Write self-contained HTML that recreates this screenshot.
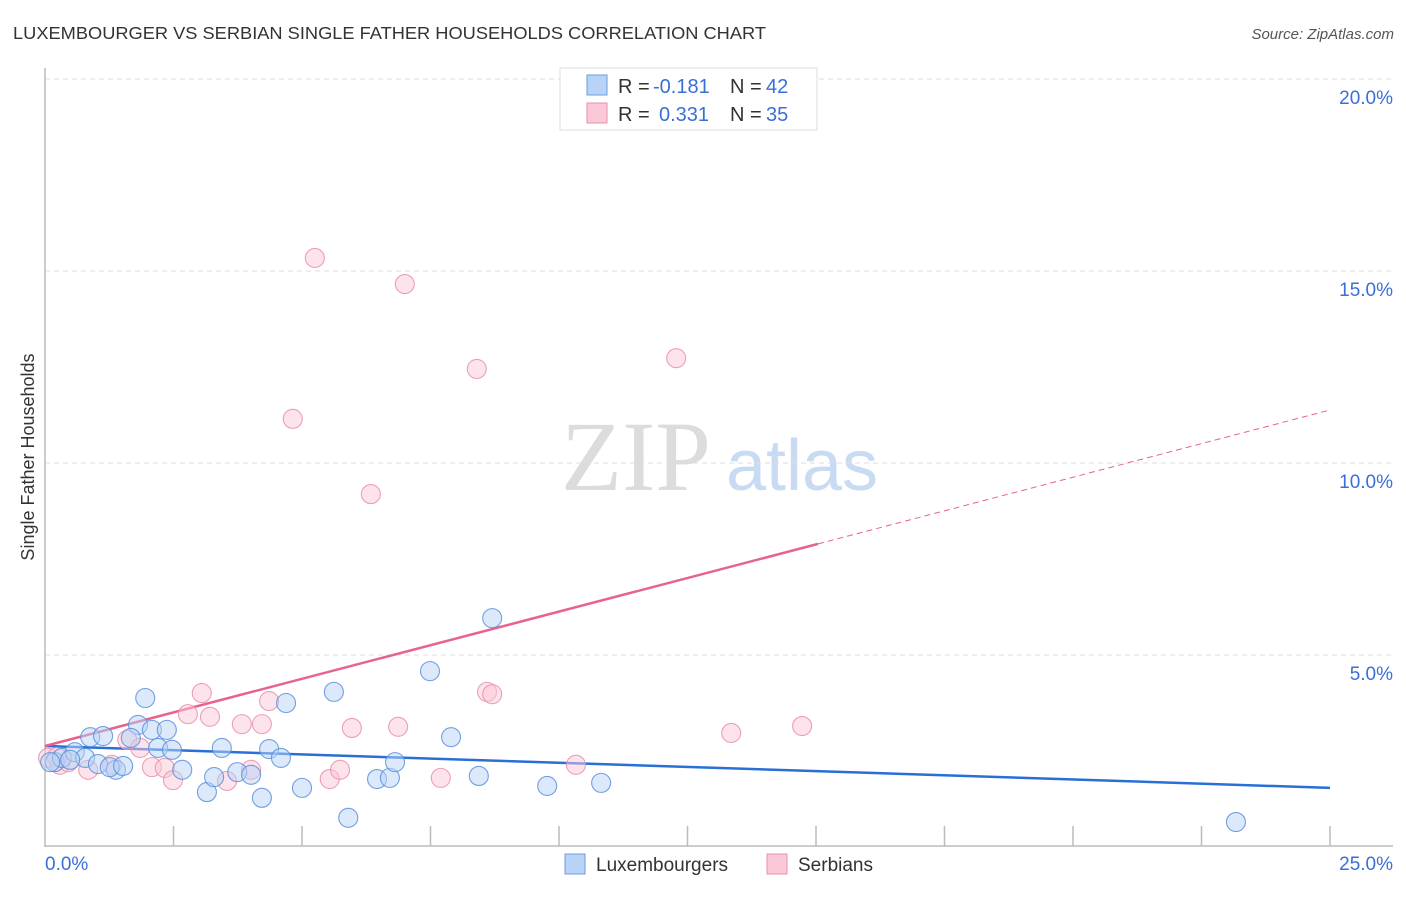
<!DOCTYPE html>
<html><head><meta charset="utf-8"><style>
body{margin:0;background:#fff;font-family:"Liberation Sans",sans-serif}
</style></head><body>
<svg id="chart" width="1406" height="892" viewBox="0 0 1406 892" xmlns="http://www.w3.org/2000/svg" font-family="Liberation Sans, sans-serif">
<text x="13" y="39" font-size="17.5" fill="#333" textLength="753" lengthAdjust="spacingAndGlyphs">LUXEMBOURGER VS SERBIAN SINGLE FATHER HOUSEHOLDS CORRELATION CHART</text>
<text x="1394" y="39" font-size="15" fill="#555" font-style="italic" text-anchor="end">Source: ZipAtlas.com</text>
<text x="34" y="457" font-size="18" fill="#333" text-anchor="middle" transform="rotate(-90 34 457)">Single Father Households</text>
<g>
<text x="636" y="490" font-size="100" fill="#dcdcdc" style="font-family:'Liberation Serif',serif" text-anchor="middle">ZIP</text>
<text x="802" y="490" font-size="72" fill="#c9daf3" text-anchor="middle">atlas</text>
</g>
<g id="grid"></g>
<g id="axes"></g>
<g id="trends"></g>
<g id="points"></g>
<g>
<rect x="560" y="68" width="257" height="62" fill="#fff" stroke="#ddd"/>
<rect x="587" y="75" width="20" height="20" fill="#b8d3f5" stroke="#6a9ee0"/>
<text x="618" y="93" font-size="20" fill="#333">R = </text>
<text x="653" y="93" font-size="20" fill="#3a6fd6">-0.181</text>
<text x="730" y="93" font-size="20" fill="#333">N = </text>
<text x="766" y="93" font-size="20" fill="#3a6fd6">42</text>
<rect x="587" y="103" width="20" height="20" fill="#fbc8d7" stroke="#ea8fab"/>
<text x="618" y="121" font-size="20" fill="#333">R = </text>
<text x="659" y="121" font-size="20" fill="#3a6fd6">0.331</text>
<text x="730" y="121" font-size="20" fill="#333">N = </text>
<text x="766" y="121" font-size="20" fill="#3a6fd6">35</text>
</g>
<g>
<rect x="565" y="854" width="20" height="20" fill="#b8d3f5" stroke="#6a9ee0"/>
<text x="596" y="871" font-size="19" fill="#333">Luxembourgers</text>
<text x="798" y="871" font-size="19" fill="#333">Serbians</text>
<rect x="767" y="854" width="20" height="20" fill="#fbc8d7" stroke="#ea8fab"/>
</g>
</svg>
<script>
const blueX=[0.19,0.33,0.58,0.78,0.88,1.13,1.03,1.38,1.95,1.81,1.67,2.08,2.37,2.20,2.47,2.67,3.15,3.29,3.44,3.74,4.01,4.22,4.36,4.59,4.69,5.00,5.62,5.90,6.46,6.71,6.81,7.49,7.90,8.44,8.70,9.77,10.82,23.17,0.10,1.26,1.52,0.49];
const blueY=[2.21,2.32,2.47,2.32,2.86,2.89,2.16,2.01,3.88,3.18,2.84,3.05,3.05,2.58,2.53,2.01,1.43,1.82,2.58,1.95,1.88,1.28,2.55,2.32,3.75,1.54,4.04,0.76,1.77,1.80,2.21,4.58,2.86,1.85,5.96,1.59,1.67,0.65,2.21,2.08,2.11,2.27];
const pinkX=[0.06,0.29,0.45,0.84,1.30,1.60,1.85,2.08,2.33,2.49,2.78,3.05,3.21,3.54,3.83,4.01,4.22,4.36,4.82,5.25,5.54,5.74,5.97,6.34,6.87,7.00,7.70,8.40,8.60,8.70,10.33,12.28,13.35,14.73,0.23];
const pinkY=[2.32,2.14,2.21,2.01,2.14,2.79,2.58,2.08,2.06,1.74,3.46,4.01,3.39,1.72,3.20,2.01,3.20,3.80,11.15,15.34,1.77,2.01,3.10,9.19,3.13,14.66,1.80,12.45,4.04,3.98,2.14,12.73,2.97,3.15,2.34];
const yTicks=[5,10,15,20];
const yTickLabels=["5.0%","10.0%","15.0%","20.0%"];
const xTicks=[0,2.5,5,7.5,10,12.5,15,17.5,20,22.5,25];
const blueTrend=[2.63,1.54];
const pinkTrend=[2.63,11.38];
const pinkSolidEnd=15.04;

const NS="http://www.w3.org/2000/svg";
const X=v=>45+v*51.4, Y=v=>847-v*38.4;
function mk(tag,attrs,parent){const e=document.createElementNS(NS,tag);for(const k in attrs)e.setAttribute(k,attrs[k]);parent.appendChild(e);return e;}
const grid=document.getElementById('grid'),axes=document.getElementById('axes'),tr=document.getElementById('trends'),pts=document.getElementById('points');
yTicks.forEach((t,i)=>{
 const l=mk('line',{x1:45,x2:1393,y1:Y(t),y2:Y(t),stroke:'#ddd','stroke-dasharray':'5,4'},grid);
 
 
 const tx=mk('text',{x:1393,y:Y(t)+25,'font-size':19,fill:'#3a6fd6','text-anchor':'end'},axes);
 tx.textContent=yTickLabels[i];
 
 
});
let a=mk('line',{x1:45,x2:45,y1:68,y2:847,stroke:'#bbb','stroke-width':1.5},axes);


a=mk('line',{x1:45,x2:1393,y1:846,y2:846,stroke:'#bbb','stroke-width':1.5},axes);


xTicks.slice(1).forEach(t=>{
 const l=mk('line',{x1:X(t),x2:X(t),y1:826,y2:846,stroke:'#bbb','stroke-width':1.5},axes);
 
 
});
let t0=mk('text',{x:45,y:870,'font-size':19,fill:'#3a6fd6'},axes);t0.textContent='0.0%';


let t1=mk('text',{x:1393,y:870,'font-size':19,fill:'#3a6fd6','text-anchor':'end'},axes);t1.textContent='25.0%';



function drawPts(xs,ys,fill,stroke,name){xs.forEach((x,i)=>{
 const c=mk('circle',{cx:X(x),cy:Y(ys[i]),r:9.5,fill:fill,'fill-opacity':0.5,stroke:stroke,'stroke-width':1.1,'stroke-opacity':0.85},pts);
 
 
});}
drawPts(pinkX,pinkY,'#fbc8d7','#ea8fab','serbian-point');
drawPts(blueX,blueY,'#b8d3f5','#5a8fdc','luxembourger-point');

const pAt=x=>pinkTrend[0]+(pinkTrend[1]-pinkTrend[0])*x/25;
let l=mk('line',{x1:X(0),y1:Y(blueTrend[0]),x2:X(25),y2:Y(blueTrend[1]),stroke:'#2a6fd6','stroke-width':2.5},tr);


l=mk('line',{x1:X(0),y1:Y(pAt(0)),x2:X(pinkSolidEnd),y2:Y(pAt(pinkSolidEnd)),stroke:'#e8628e','stroke-width':2.5},tr);


l=mk('line',{x1:X(pinkSolidEnd),y1:Y(pAt(pinkSolidEnd)),x2:X(25),y2:Y(pAt(25)),stroke:'#e8628e','stroke-width':1,'stroke-dasharray':'6,4'},tr);


</script>
</body></html>
